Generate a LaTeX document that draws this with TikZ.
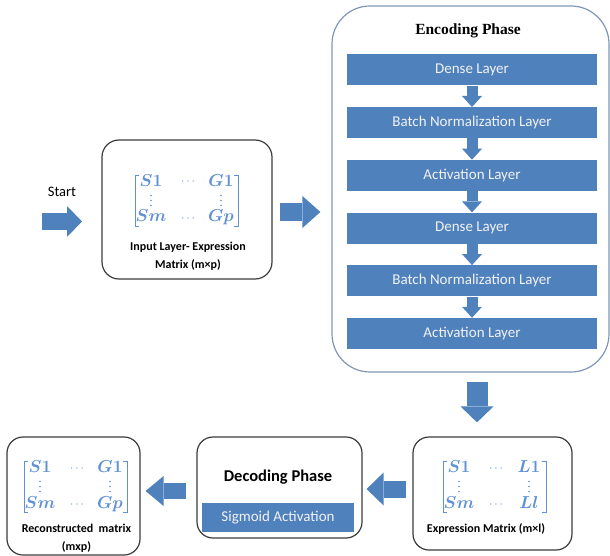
\documentclass[tikz,border=0pt]{standalone}
\usepackage{amsmath}
\usepackage{bm}
\usepackage[no-math]{fontspec}
\setmainfont{Carlito}
\newfontfamily\serifbf{Liberation Serif}
\usetikzlibrary{arrows.meta,calc}
\definecolor{ofblue}{RGB}{79,129,189}
\definecolor{matblue}{RGB}{95,145,212}
\definecolor{encline}{RGB}{128,150,182}
\definecolor{boxline}{RGB}{60,60,60}
\definecolor{bartext}{RGB}{242,242,242}
\tikzset{
  fatarrow/.style n args={3}{draw=ofblue, line width=#1,
    -{Triangle[width=#2,length=#3,line width=0pt]}},
  roundbox/.style={draw=boxline, line width=1.2pt, rounded corners=17pt, inner sep=0pt},
  encbox/.style={draw=encline, line width=1.2pt, rounded corners=38pt, inner sep=0pt,
    minimum width=277pt, minimum height=366pt},
  layerbar/.style={fill=ofblue, text=bartext, inner sep=0pt,
    minimum width=250pt, minimum height=31pt, font=\fontsize{15}{16}\selectfont},
  lbl/.style={inner sep=0pt, align=center, font=\fontsize{12}{18}\selectfont\bfseries},
  matbr/.style={draw=matblue, line width=0.8pt},
  matent/.style={text=matblue, inner sep=0pt, anchor=base, font=\fontsize{17}{17}\selectfont},
  matdots/.style={text=matblue, inner sep=0pt, anchor=base, font=\fontsize{12}{12}\selectfont},
  matdot/.style={fill=matblue, draw=none}
}
\newcommand\drawmat[7]{%
  \begin{scope}[shift={(#2,#3)}]
    \draw[matbr] (4,0) -- (0,0) -- (0,51) -- (4,51);
    \draw[matbr] (99,0) -- (103,0) -- (103,51) -- (99,51);
    \node[matent] (#1-11) at (16,11.5) {$\bm{#4}$};
    \node[matdots] (#1-12) at (54,10) {$\cdots$};
    \node[matent] (#1-13) at (86,11.5) {$\bm{#5}$};
    \foreach \yy in {20.5,25.5,30.5} {
      \fill[matdot] (16,\yy) circle (0.8);
      \fill[matdot] (86,\yy) circle (0.8);
    }
    \node[matent] (#1-31) at (16,47) {$\bm{#6}$};
    \node[matdots] (#1-32) at (54,46) {$\cdots$};
    \node[matent] (#1-33) at (86,47) {$\bm{#7}$};
  \end{scope}}
\begin{document}
\begin{tikzpicture}[x=1pt,y=-1pt]
\useasboundingbox (0,0) rectangle (610,556);

% Start
\node[inner sep=0pt, font=\fontsize{14.5}{16}\selectfont] (start) at (62,192) {Start};
\coordinate (st1) at (42,221.5);
\coordinate (st2) at (82,221.5);
\draw[fatarrow={17pt}{31pt}{15pt}] (st1) -- (st2);

% Input box
\node[roundbox, minimum width=170pt, minimum height=139pt] (inp) at (187,209.5) {};
\drawmat{mi}{135}{175}{S1}{G1}{Sm}{Gp}
\node[lbl] (inplbl) at (188,256) {Input Layer- Expression\\Matrix (m×p)};

% Encoding phase
\node[encbox] (enc) at (470.5,189) {};
\node[inner sep=0pt, font=\fontsize{15.5}{18}\selectfont\serifbf\bfseries] (enct) at (468,31) {Encoding Phase};
\node[layerbar] (l1) at (472,70) {Dense Layer};
\node[layerbar] (l2) at (472,122.7) {Batch Normalization Layer};
\node[layerbar] (l3) at (472,175.4) {Activation Layer};
\node[layerbar] (l4) at (472,228.1) {Dense Layer};
\node[layerbar] (l5) at (472,280.8) {Batch Normalization Layer};
\node[layerbar] (l6) at (472,333.5) {Activation Layer};
\foreach \a/\b in {l1/l2,l2/l3,l3/l4,l4/l5,l5/l6}
  \draw[fatarrow={11pt}{20pt}{11pt}] (\a.south) -- (\b.north);

% Input -> Encoding
\path (inp.east) ++(7,2.5) coordinate (a2s);
\draw[fatarrow={18pt}{32pt}{18pt}, shorten >=11pt] (a2s) -- (a2s -| enc.west);

% Bottom row boxes
\node[roundbox, rounded corners=16pt, minimum width=159pt, minimum height=113pt] (exm) at (492.5,493.5) {};
\drawmat{me}{443}{461}{S1}{L1}{Sm}{Ll}
\node[lbl] (exmlbl) at (486,529) {Expression Matrix (m×l)};

\node[roundbox, rounded corners=16pt, minimum width=165pt, minimum height=101pt] (dec) at (279.5,487.5) {};
\node[inner sep=0pt, font=\fontsize{16.5}{18}\selectfont\bfseries] (dect) at (278,477) {Decoding Phase};
\node[layerbar, minimum width=152pt, minimum height=29pt] (sig) at (278,517.5) {Sigmoid Activation};

\node[roundbox, rounded corners=16pt, minimum width=133pt, minimum height=118pt] (rec) at (73.5,496) {};
\drawmat{mr}{24}{461}{S1}{G1}{Sm}{Gp}
\node[lbl] (reclbl) at (76.5,538) {Reconstructed\ \ matrix\\(mxp)};

% Encoding -> Expression
\path (enc.south) ++(6.5,9) coordinate (a3s);
\draw[fatarrow={21pt}{33pt}{16pt}, shorten >=14pt] (a3s) -- (a3s |- exm.north);

% Expression -> Decoding
\path (dec.east) ++(4,1.5) coordinate (a4e);
\draw[fatarrow={17pt}{33pt}{17pt}, shorten <=6pt] (exm.west |- a4e) -- (a4e);

% Decoding -> Reconstructed
\path (rec.east) ++(5,-5) coordinate (a5e);
\draw[fatarrow={16pt}{30pt}{18pt}, shorten <=10pt] (dec.west |- a5e) -- (a5e);
\end{tikzpicture}
\end{document}
